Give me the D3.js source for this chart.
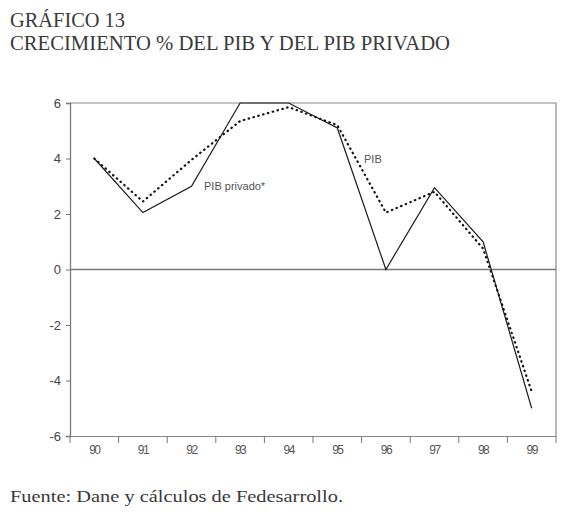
<!DOCTYPE html>
<html>
<head>
<meta charset="utf-8">
<script src="https://cdn.jsdelivr.net/npm/d3@7"></script>
<style>
  body { margin: 0; background: #fff; }
  svg { display: block; }
</style>
</head>
<body>
<div id="chart"></div>
<script>
// Data
const years = ["90", "91", "92", "93", "94", "95", "96", "97", "98", "99"];
const pibPrivado = [4.0, 2.05, 3.0, 6.0, 6.0, 5.1, 0.0, 2.95, 1.0, -5.0];
const pib = [4.0, 2.45, 3.95, 5.35, 5.85, 5.2, 2.05, 2.8, 0.75, -4.4];
const yTicks = [-6, -4, -2, 0, 2, 4, 6];

const width = 575, height = 516;
const plot = { left: 70, right: 556, top: 103, bottom: 436 };

const svg = d3.select("#chart").append("svg")
  .attr("width", width)
  .attr("height", height);

// Titles
const titleFont = "'Liberation Serif', 'DejaVu Serif', serif";
svg.append("text")
  .attr("x", 10).attr("y", 27)
  .attr("textLength", 115)
  .attr("lengthAdjust", "spacingAndGlyphs")
  .style("font-family", titleFont)
  .style("font-size", "20px")
  .style("fill", "#3a3a3a")
  .text("GRÁFICO 13");

svg.append("text")
  .attr("x", 10).attr("y", 50)
  .attr("textLength", 440)
  .attr("lengthAdjust", "spacingAndGlyphs")
  .style("font-family", titleFont)
  .style("font-size", "20px")
  .style("fill", "#3a3a3a")
  .text("CRECIMIENTO % DEL PIB Y DEL PIB PRIVADO");

// Scales
const x = d3.scaleBand()
  .domain(years)
  .range([plot.left, plot.right])
  .padding(0);

const y = d3.scaleLinear()
  .domain([-6, 6])
  .range([plot.bottom, plot.top]);

const cx = d => x(d) + x.bandwidth() / 2;

// Frame: top and right borders
svg.append("path")
  .attr("d", `M${plot.left},${plot.top}H${plot.right}V${plot.bottom}`)
  .attr("fill", "none")
  .attr("stroke", "#8a8a8a")
  .attr("stroke-width", 1.2);

// Zero line
svg.append("line")
  .attr("x1", plot.left).attr("x2", plot.right)
  .attr("y1", y(0)).attr("y2", y(0))
  .attr("stroke", "#777")
  .attr("stroke-width", 1.3);

// Y axis
const yAxis = svg.append("g")
  .attr("transform", `translate(${plot.left},0)`)
  .call(d3.axisLeft(y).tickValues(yTicks).tickSize(4).tickPadding(5)
    .tickFormat(d => d < 0 ? "-" + Math.abs(d) : d));

yAxis.select(".domain").attr("stroke", "#777").attr("stroke-width", 1.3);
yAxis.selectAll(".tick line").attr("stroke", "#777");
yAxis.selectAll(".tick text")
  .style("font-family", "'Liberation Sans', Arial, sans-serif")
  .style("font-size", "13px")
  .style("fill", "#444");

// X axis: labels at band centres, ticks at band edges
const xAxis = svg.append("g")
  .attr("transform", `translate(0,${plot.bottom})`)
  .call(d3.axisBottom(x).tickSize(0).tickPadding(9));

xAxis.select(".domain").attr("stroke", "#888").attr("stroke-width", 1.2);
xAxis.selectAll(".tick text")
  .style("font-family", "'Liberation Sans', Arial, sans-serif")
  .style("font-size", "12px")
  .style("letter-spacing", "-1.5px")
  .style("fill", "#555");

const edges = years.map(d => x(d)).concat([plot.right]);
xAxis.selectAll(".edge")
  .data(edges)
  .enter().append("line")
  .attr("class", "edge")
  .attr("x1", d => d).attr("x2", d => d)
  .attr("y1", 0).attr("y2", 7)
  .attr("stroke", "#777")
  .attr("stroke-width", 1);

// Lines
const line = d3.line()
  .x((d, i) => cx(years[i]))
  .y(d => y(d));

svg.append("path")
  .datum(pib)
  .attr("d", line)
  .attr("fill", "none")
  .attr("stroke", "#111")
  .attr("stroke-width", 2.2)
  .attr("stroke-linecap", "round")
  .attr("stroke-dasharray", "0.5,4.5");

svg.append("path")
  .datum(pibPrivado)
  .attr("d", line)
  .attr("fill", "none")
  .attr("stroke", "#1a1a1a")
  .attr("stroke-width", 1.2);

// Series labels
const labelFont = "'Liberation Sans', Arial, sans-serif";
svg.append("text")
  .attr("x", 204).attr("y", 190)
  .style("font-family", labelFont)
  .style("font-size", "11px")
  .style("fill", "#555")
  .text("PIB privado*");

svg.append("text")
  .attr("x", 364).attr("y", 163)
  .style("font-family", labelFont)
  .style("font-size", "11px")
  .style("fill", "#555")
  .text("PIB");

// Source
svg.append("text")
  .attr("x", 10).attr("y", 502)
  .attr("textLength", 333)
  .attr("lengthAdjust", "spacingAndGlyphs")
  .style("font-family", titleFont)
  .style("font-size", "17px")
  .style("fill", "#3a3a3a")
  .text("Fuente: Dane y cálculos de Fedesarrollo.");
</script>
</body>
</html>
